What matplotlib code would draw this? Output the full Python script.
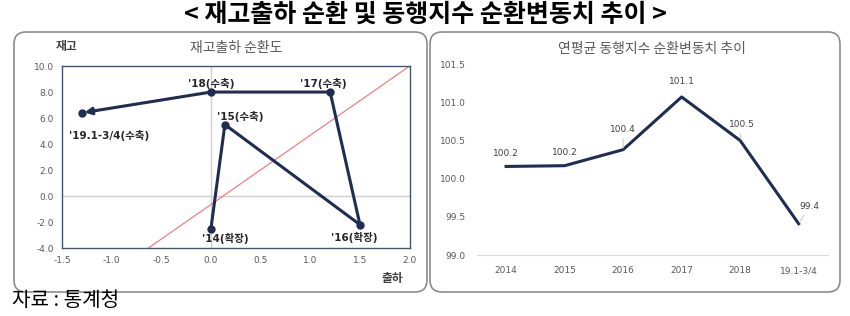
import matplotlib
matplotlib.use("Agg")
import matplotlib.pyplot as plt
from matplotlib.patches import FancyBboxPatch

plt.rcParams['font.family'] = ['Noto Sans CJK KR', 'DejaVu Sans']
numfont = ['DejaVu Sans', 'Noto Sans CJK KR']

# 재고출하 순환도 (출하, 재고)
cyc_labels = ["'14(확장)", "'15(수축)", "'16(확장)", "'17(수축)", "'18(수축)", "'19.1-3/4(수축)"]
ship = [0.0, 0.14, 1.5, 1.2, 0.0, -1.3]
stock = [-2.5, 5.5, -2.2, 8.0, 8.0, 6.4]
# 45도선 (빨간 선) 끝점
ref_x = [-0.63, 2.0]
ref_y = [-4.0, 10.0]

# 연평균 동행지수 순환변동치
years = ['2014', '2015', '2016', '2017', '2018', '19.1-3/4']
idx = [100.16, 100.17, 100.38, 101.07, 100.5, 99.41]
idx_labels = ['100.2', '100.2', '100.4', '101.1', '100.5', '99.4']

navy = '#1f2d50'
grey = '#595959'

fig = plt.figure(figsize=(8.5, 3.16), dpi=100)

# rounded panel boxes (inches)
for x0, x1 in [(0.14, 4.27), (4.30, 8.40)]:
    box = FancyBboxPatch((x0 + 0.08, 0.32), x1 - x0 - 0.16, 2.44,
                         boxstyle='round,pad=0.08,rounding_size=0.12',
                         transform=fig.dpi_scale_trans, fc='none',
                         ec='#8c8c8c', lw=1.2)
    fig.patches.append(box)

fig.text(0.5, 0.952, '< 재고출하 순환 및 동행지수 순환변동치 추이 >',
         ha='center', va='center', fontsize=18, fontweight='bold')
fig.text(0.014, 0.05, '자료 : 통계청', ha='left', va='center', fontsize=14.5)

# ---- left: 순환도
ax = fig.add_axes([0.0729, 0.215, 0.409, 0.576])
ax.axvline(0, color='#d0d0d0', lw=1, zorder=0)
ax.axhline(0, color='#d0d0d0', lw=1, zorder=0)
ax.plot(ref_x, ref_y, color='#f08080', lw=0.9, zorder=1)
ax.plot(ship[:-1], stock[:-1], color=navy, lw=2.2, marker='o', ms=5, zorder=3)
ax.plot(ship[-1], stock[-1], 'o', color=navy, ms=5, zorder=3)
ax.annotate('', xy=(ship[-1], stock[-1]), xytext=(ship[-2], stock[-2]),
            arrowprops=dict(arrowstyle='-|>', color=navy, lw=2.2,
                            mutation_scale=10, shrinkA=0, shrinkB=2), zorder=3)
offs = [(10, -7), (11, 6), (-4, -9), (-5, 6), (0, 6), (20, -16)]
for xv, yv, lab, (dx, dy) in zip(ship, stock, cyc_labels, offs):
    ax.annotate(lab, (xv, yv), xytext=(dx, dy), textcoords='offset points',
                ha='center', va='center', fontsize=7.5, fontweight='bold',
                color='#262626', family=numfont)
ax.set_xlim(-1.5, 2.0)
ax.set_ylim(-4.0, 10.0)
ax.set_xticks([-1.5, -1.0, -0.5, 0.0, 0.5, 1.0, 1.5, 2.0])
ax.set_yticks(range(-4, 11, 2))
ax.set_xticklabels([f'{v:.1f}' for v in ax.get_xticks()], family=numfont)
ax.set_yticklabels([f'{v:.1f}' for v in ax.get_yticks()], family=numfont)
ax.tick_params(length=0, labelsize=6.5, labelcolor=grey, pad=6)
for s in ax.spines.values():
    s.set_color('#44546a')
    s.set_linewidth(1.0)
ax.set_title('재고출하 순환도', fontsize=10, color=grey, pad=10)
fig.text(0.078, 0.852, '재고', ha='center', va='center', fontsize=8.5,
         fontweight='bold', color='#404040')
fig.text(0.462, 0.12, '출하', ha='center', va='center', fontsize=8.5,
         fontweight='bold', color='#404040')

# ---- right: 동행지수
ax2 = fig.add_axes([0.561, 0.193, 0.413, 0.604])
xs = range(len(years))
ax2.plot(xs, idx, color=navy, lw=2.2, zorder=3)
offs2 = [(0, 6), (0, 6), (0, 11), (0, 8), (1, 8), (8, 9)]
leader = [False, False, True, False, True, True]
for xv, yv, lab, (dx, dy), ld in zip(xs, idx, idx_labels, offs2, leader):
    ax2.annotate(lab, (xv, yv), xytext=(dx, dy), textcoords='offset points',
                 ha='center', va='bottom', fontsize=6.5, color='#404040',
                 family=numfont,
                 arrowprops=dict(arrowstyle='-', color='#bfbfbf', lw=0.6,
                                 shrinkA=1, shrinkB=1) if ld else None)
ax2.set_xlim(-0.5, 5.5)
ax2.set_ylim(99.0, 101.5)
ax2.set_xticks(list(xs))
ax2.set_xticklabels(years, family=numfont)
ax2.set_yticks([99.0, 99.5, 100.0, 100.5, 101.0, 101.5])
ax2.set_yticklabels(['99.0', '99.5', '100.0', '100.5', '101.0', '101.5'],
                    family=numfont)
ax2.tick_params(length=0, labelsize=6.5, labelcolor=grey, pad=8)
for k in ['top', 'right', 'left']:
    ax2.spines[k].set_visible(False)
ax2.spines['bottom'].set_color('#d9d9d9')
ax2.set_title('연평균 동행지수 순환변동치 추이', fontsize=10, color=grey, pad=8)

fig.savefig('out.png', dpi=100)
